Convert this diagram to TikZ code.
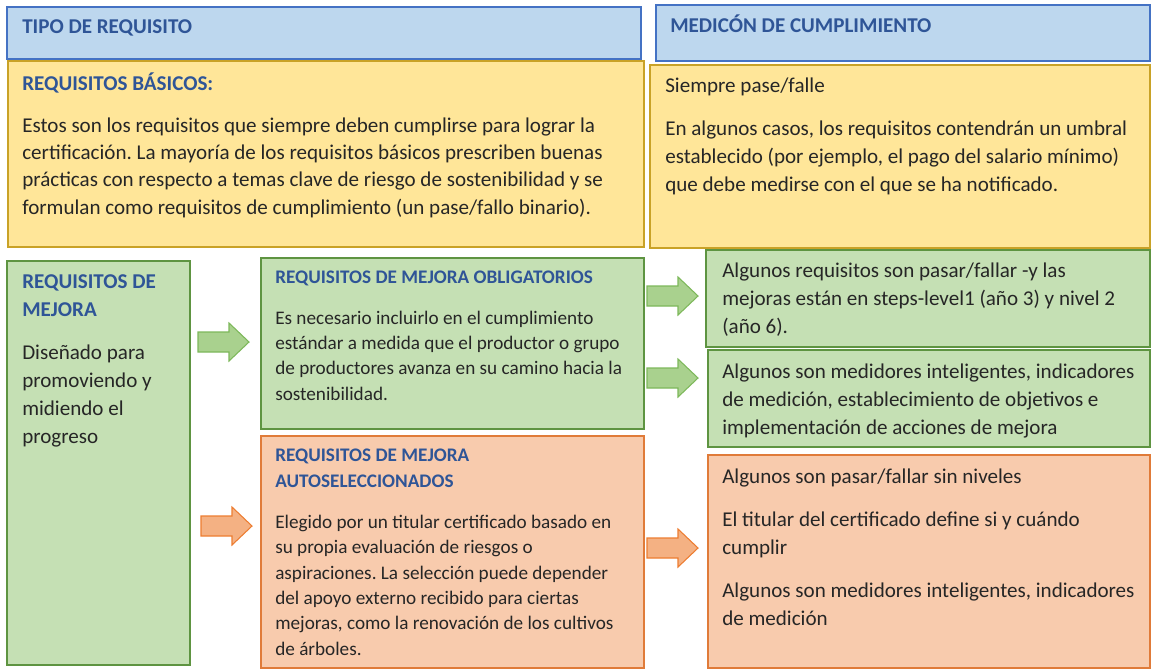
\documentclass[tikz,border=0pt]{standalone}
\usepackage{fontspec}
\setmainfont{Carlito}
\frenchspacing
\usetikzlibrary{positioning,fit}
\definecolor{headblue}{HTML}{2F5597}
\definecolor{textgray}{HTML}{262626}
\definecolor{bluefill}{HTML}{BDD7EE}
\definecolor{blueline}{HTML}{4472C4}
\definecolor{yellowfill}{HTML}{FFE699}
\definecolor{yellowline}{HTML}{C9A227}
\definecolor{greenfill}{HTML}{C5E0B4}
\definecolor{greenline}{HTML}{5E9441}
\definecolor{orangefill}{HTML}{F8CBAD}
\definecolor{orangeline}{HTML}{E07B39}
\definecolor{arrowgreen}{HTML}{A9D18E}
\definecolor{arrowgreenline}{HTML}{7DB85A}
\definecolor{arroworange}{HTML}{F4B183}
\definecolor{arroworangeline}{HTML}{ED7D31}
\tikzstyle{box} = [rectangle, draw, line width=1pt, inner sep=0pt]
\tikzstyle{bluebox} = [box, draw=blueline, fill=bluefill]
\tikzstyle{yellowbox} = [box, draw=yellowline, fill=yellowfill]
\tikzstyle{greenbox} = [box, draw=greenline, fill=greenfill]
\tikzstyle{orangebox} = [box, draw=orangeline, fill=orangefill]
\tikzstyle{head} = [inner sep=0pt, anchor=base west, align=left, text=headblue,
    font=\bfseries\fontsize{15.8}{21}\selectfont]
\tikzstyle{smallhead} = [head, font=\bfseries\fontsize{14.4}{19}\selectfont]
\tikzstyle{body} = [inner sep=0pt, anchor=base west, align=left, text=textgray,
    font=\fontsize{15.8}{20.5}\selectfont]
\tikzstyle{widebody} = [body, font=\fontsize{15.8}{21}\selectfont]
\tikzstyle{smallbody} = [body, font=\fontsize{14.4}{19}\selectfont]
\tikzstyle{greenarrow} = [draw=arrowgreenline, fill=arrowgreen, line width=0.8pt, line join=miter]
\tikzstyle{orangearrow} = [draw=arroworangeline, fill=arroworange, line width=0.8pt, line join=miter]
\newcommand{\blockarrow}[3]{%
  \path [#1] (#2,#3) ++(0,-10) -- ++(31,0) -- ++(0,-9) -- ++(20,19)
    -- ++(-20,19) -- ++(0,-9) -- ++(-31,0) -- cycle;}

\begin{document}
\begin{tikzpicture}[x=0.75pt, y=-0.75pt]
			\useasboundingbox (0,0) rectangle (1151,669);
			% Place boxes
			\node [bluebox, fit={(7,7) (641,59)}] (tipo) {};
			\node [bluebox, fit={(656,5) (1150,61)}] (medicion) {};
			\node [yellowbox, fit={(8,61) (644,247)}] (basicos) {};
			\node [yellowbox, fit={(650,65) (1150,248)}] (pasefalle) {};
			\node [greenbox, fit={(7,261) (190,665)}] (mejora) {};
			\node [greenbox, fit={(261,258) (644,429)}] (obligatorios) {};
			\node [orangebox, fit={(261,436) (644,668)}] (autosel) {};
			\node [greenbox, fit={(706,250) (1150,347)}] (niveles) {};
			\node [greenbox, fit={(708,350) (1150,447)}] (medidores) {};
			\node [orangebox, fit={(708,455) (1150,668)}] (titular) {};
			% Place texts (multi-line texts sit on their last line)
			\node [head] (tipotxt) at (22,33) {TIPO DE REQUISITO};
			\node [head] (meditxt) at (670,32) {MEDICÓN DE CUMPLIMIENTO};
			\node [head] (bashead) at (22,90) {REQUISITOS BÁSICOS:};
			\node [body] (bastxt) at (22,214) {Estos son los requisitos que siempre deben cumplirse para lograr la\\
				certificación. La mayoría de los requisitos básicos prescriben buenas\\
				prácticas con respecto a temas clave de riesgo de sostenibilidad y se\\
				formulan como requisitos de cumplimiento (un pase/fallo binario).};
			\node [body] (pasetxt) at (665,92) {Siempre pase/falle};
			\node [widebody] (umbraltxt) at (665,191) {En algunos casos, los requisitos contendrán un umbral\\
				establecido (por ejemplo, el pago del salario mínimo)\\
				que debe medirse con el que se ha notificado.};
			\node [head] (mejhead) at (22,316) {REQUISITOS DE\\ MEJORA};
			\node [widebody] (mejtxt) at (22,443) {Diseñado para\\ promoviendo y\\ midiendo el\\ progreso};
			\node [smallhead] (oblhead) at (275,283) {REQUISITOS DE MEJORA OBLIGATORIOS};
			\node [smallbody] (obltxt) at (275,400) {Es necesario incluirlo en el cumplimiento\\
				estándar a medida que el productor o grupo\\
				de productores avanza en su camino hacia la\\
				sostenibilidad.};
			\node [smallhead] (authead) at (275,487) {REQUISITOS DE MEJORA\\ AUTOSELECCIONADOS};
			\node [smallbody] (auttxt) at (275,655) {Elegido por un titular certificado basado en\\
				su propia evaluación de riesgos o\\
				aspiraciones. La selección puede depender\\
				del apoyo externo recibido para ciertas\\
				mejoras, como la renovación de los cultivos\\
				de árboles.};
			\node [widebody] (niveltxt) at (722,333) {Algunos requisitos son pasar/fallar -y las\\
				mejoras están en steps-level1 (año 3) y nivel 2\\
				(año 6).};
			\node [widebody] (medtxt) at (722,434) {Algunos son medidores inteligentes, indicadores\\
				de medición, establecimiento de objetivos e\\
				implementación de acciones de mejora};
			\node [widebody] (sintxt) at (722,483) {Algunos son pasar/fallar sin niveles};
			\node [widebody] (cuandotxt) at (722,554) {El titular del certificado define si y cuándo\\ cumplir};
			\node [widebody] (medtxtb) at (722,625) {Algunos son medidores inteligentes, indicadores\\ de medición};
			% Draw arrows
			\blockarrow{greenarrow}{198}{342}
			\blockarrow{greenarrow}{647}{296}
			\blockarrow{greenarrow}{647}{378}
			\blockarrow{orangearrow}{201}{526}
			\blockarrow{orangearrow}{647}{548}
	\end{tikzpicture}
\end{document}
